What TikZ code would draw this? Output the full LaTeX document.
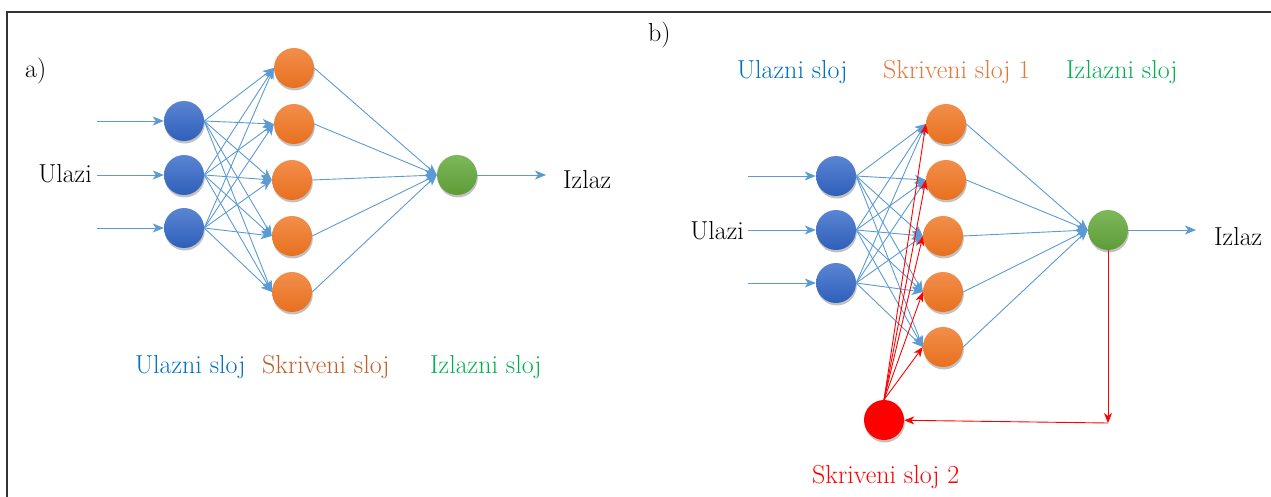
\documentclass[tikz,border=0pt]{standalone}
\usepackage{fontspec}
\usetikzlibrary{arrows.meta,shadows}
\definecolor{linkblue}{HTML}{5B9BD5}
\definecolor{txtblue}{HTML}{0070C0}
\definecolor{txtorange}{HTML}{C25E28}
\definecolor{txtorangeb}{HTML}{E2783A}
\definecolor{txtgreen}{HTML}{00B050}
\definecolor{intop}{HTML}{5A85D3}
\definecolor{inbot}{HTML}{2F5FBA}
\definecolor{hidtop}{HTML}{F28E4B}
\definecolor{hidbot}{HTML}{E8701E}
\definecolor{outtop}{HTML}{7DB85A}
\definecolor{outbot}{HTML}{5E9B38}
\tikzset{
  neuron/.style={circle, minimum size=40pt, inner sep=0pt,
    drop shadow={shadow xshift=0.8pt, shadow yshift=-2.5pt, opacity=0.4, fill=black!60}},
  inneuron/.style={neuron, top color=intop, bottom color=inbot},
  hidneuron/.style={neuron, top color=hidtop, bottom color=hidbot},
  outneuron/.style={neuron, top color=outtop, bottom color=outbot},
  recneuron/.style={neuron, fill=red},
  link/.style={draw=linkblue, line width=0.9pt, -{Stealth[length=11pt,width=9pt,inset=3pt]}},
  fb/.style={draw=red, line width=0.9pt, -{Stealth[length=10pt,width=8pt,inset=3pt]}},
  lbl/.style={anchor=base west, inner sep=0pt}
}

\begin{document}
\begin{tikzpicture}[x=1pt, y=-1pt, font=\fontsize{26}{30}\selectfont]
  \useasboundingbox (0,0) rectangle (1271,497);
  \draw[line width=2pt, black!80] (7,497) -- (7,12) -- (1271,12);

  % a)
  \node[lbl] (a-tag) at (25,78) {a)};
  \foreach \i/\y in {1/121,2/175,3/228}{
    \node[inneuron] (a-in\i) at (184,\y) {};
    \coordinate (a-src\i) at (97,\y);
  }
  \foreach \j/\x/\y in {1/294/68,2/294/124,3/292/180,4/292/236,5/292/292}
    \node[hidneuron] (a-hid\j) at (\x,\y) {};
  \node[outneuron] (a-out) at (457,175) {};
  \coordinate (a-dst) at (546,175);

  \foreach \i in {1,2,3}{
    \draw[link] (a-src\i) -- (a-in\i);
    \foreach \j in {1,...,5}
      \draw[link] (a-in\i.east) -- (a-hid\j.west);
  }
  \foreach \j in {1,...,5}
    \draw[link] (a-hid\j.east) -- (a-out.west);
  \draw[link] (a-out) -- (a-dst);

  \node[anchor=base east, inner sep=0pt] (a-inlbl) at (92,183) {Ulazi};
  \node[lbl] (a-outlbl) at (563,189) {Izlaz};
  \node[lbl, txtblue] (a-l1) at (135,373) {Ulazni sloj};
  \node[lbl, txtorange] (a-l2) at (262,373) {Skriveni sloj};
  \node[lbl, txtgreen] (a-l3) at (430,373) {Izlazni sloj};

  % b)
  \node[lbl] (b-tag) at (648,42) {b)};
  \foreach \i/\y in {1/176,2/230,3/283}{
    \node[inneuron] (b-in\i) at (836,\y) {};
    \coordinate (b-src\i) at (748,\y);
  }
  \foreach \j/\x/\y in {1/946/124,2/946/180,3/943/236,4/943/292,5/943/347}
    \node[hidneuron] (b-hid\j) at (\x,\y) {};
  \node[outneuron] (b-out) at (1108,230) {};
  \node[recneuron] (b-rec) at (884,420) {};
  \coordinate (b-dst) at (1196,230);
  \coordinate (b-turn) at (1108,423);

  \foreach \i in {1,2,3}{
    \draw[link] (b-src\i) -- (b-in\i);
    \foreach \j in {1,...,5}
      \draw[link] (b-in\i.east) -- (b-hid\j.west);
  }
  \foreach \j in {1,...,5}{
    \draw[link] (b-hid\j.east) -- (b-out.west);
    \draw[fb] (b-rec.north) -- (b-hid\j.west);
  }
  \draw[link] (b-out) -- (b-dst);
  \draw[fb] (b-out.south) -- (b-turn);
  \draw[fb] (b-turn) -- (b-rec);

  \node[anchor=base east, inner sep=0pt] (b-inlbl) at (744,239) {Ulazi};
  \node[lbl] (b-outlbl) at (1214,245) {Izlaz};
  \node[lbl, txtblue] (b-l1) at (737,79) {Ulazni sloj};
  \node[lbl, txtorangeb] (b-l2) at (883,79) {Skriveni sloj 1};
  \node[lbl, txtgreen] (b-l3) at (1066,79) {Izlazni sloj};
  \node[lbl, red] (b-l4) at (812,483) {Skriveni sloj 2};
\end{tikzpicture}
\end{document}
